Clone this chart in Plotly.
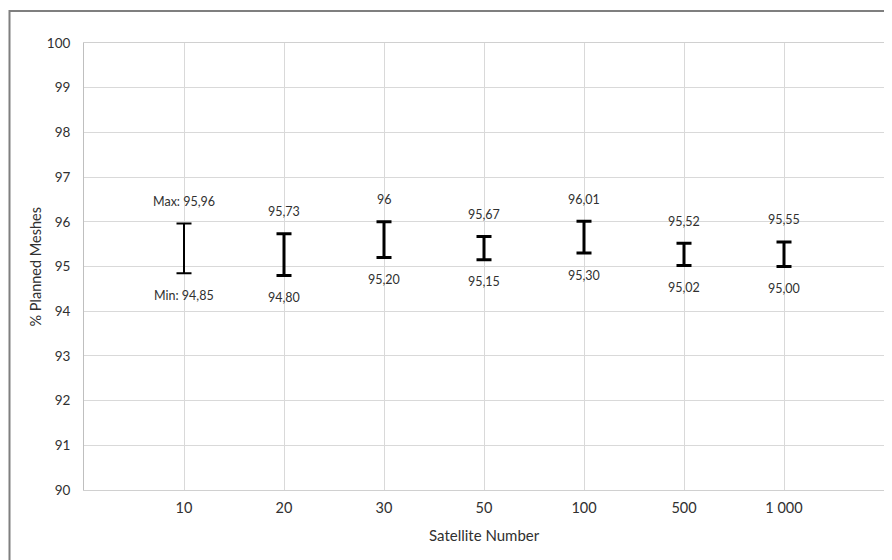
import plotly.graph_objects as go

categories = ["10", "20", "30", "50", "100", "500", "1 000"]
max_values = [95.96, 95.73, 96.00, 95.67, 96.01, 95.52, 95.55]
min_values = [94.85, 94.80, 95.20, 95.15, 95.30, 95.02, 95.00]
max_labels = ["Max: 95,96", "95,73", "96", "95,67", "96,01", "95,52", "95,55"]
min_labels = ["Min: 94,85", "94,80", "95,20", "95,15", "95,30", "95,02", "95,00"]
y_ticks = list(range(90, 101))

FONT = "Lato, Carlito, Calibri, 'Liberation Sans', sans-serif"
TXT = "#303030"

# page body has an 8px margin; compensate so plot area lands at page x 84..884, y 43..490
L, T, PW, PH = 76, 35, 800, 447
W, H = 884, 552

mid = [(a + b) / 2 for a, b in zip(max_values, min_values)]
half = [(a - b) / 2 for a, b in zip(max_values, min_values)]

fig = go.Figure()
for i, c in enumerate(categories):
    fig.add_trace(go.Scatter(
        x=[c], y=[mid[i]], mode="markers",
        marker=dict(size=1, opacity=0),
        error_y=dict(type="data", array=[half[i]], symmetric=True,
                     thickness=2 if i == 0 else 3, width=7.5, color="black"),
        hoverinfo="skip", showlegend=False,
    ))

annotations = []
for i, (v, t) in enumerate(zip(max_values, max_labels)):
    annotations.append(dict(x=i, y=v, text=t, showarrow=False, yanchor="middle",
                            yshift=22, font=dict(size=12.5, color=TXT, family=FONT)))
for i, (v, t) in enumerate(zip(min_values, min_labels)):
    annotations.append(dict(x=i, y=v, text=t, showarrow=False, yanchor="middle",
                            yshift=-22, font=dict(size=12.5, color=TXT, family=FONT)))

annotations.append(dict(xref="paper", yref="paper", x=0.5, y=-(527 - (T + PH)) / PH,
                        text="Satellite Number", showarrow=False,
                        xanchor="center", yanchor="middle",
                        font=dict(size=15, color=TXT, family=FONT)))
annotations.append(dict(xref="paper", yref="paper", x=(27 - L) / PW, y=0.5,
                        text="% Planned Meshes", showarrow=False,
                        xanchor="center", yanchor="middle", textangle=-90,
                        font=dict(size=14.5, color=TXT, family=FONT)))

fig.update_layout(
    width=W, height=H,
    margin=dict(l=L, r=W - L - PW, t=T, b=H - T - PH, pad=0),
    paper_bgcolor="white", plot_bgcolor="white",
    annotations=annotations,
    shapes=[dict(type="rect", xref="paper", yref="paper",
                 x0=(1.5 - L) / PW, x1=1.2, y0=-0.4, y1=(T + PH - 3) / PH,
                 line=dict(color="#7f7f7f", width=2), layer="below")],
    xaxis=dict(type="category", categoryorder="array", categoryarray=categories,
               range=[-1, 7], showgrid=True, gridcolor="#d9d9d9", gridwidth=1,
               showline=True, linecolor="#d0d0d0", linewidth=1, mirror=True,
               tickfont=dict(size=14.5, color=TXT, family=FONT), ticks="outside",
               ticklen=5, tickcolor="rgba(0,0,0,0)", zeroline=False, automargin=False),
    yaxis=dict(range=[90, 100], tickvals=y_ticks, showgrid=True, gridcolor="#d9d9d9",
               showline=True, linecolor="#bfbfbf", linewidth=1, mirror=True,
               tickfont=dict(size=13.5, color=TXT, family=FONT), ticks="outside",
               ticklen=10, tickcolor="rgba(0,0,0,0)", zeroline=False, automargin=False),
)

fig.write_html("out.html")
